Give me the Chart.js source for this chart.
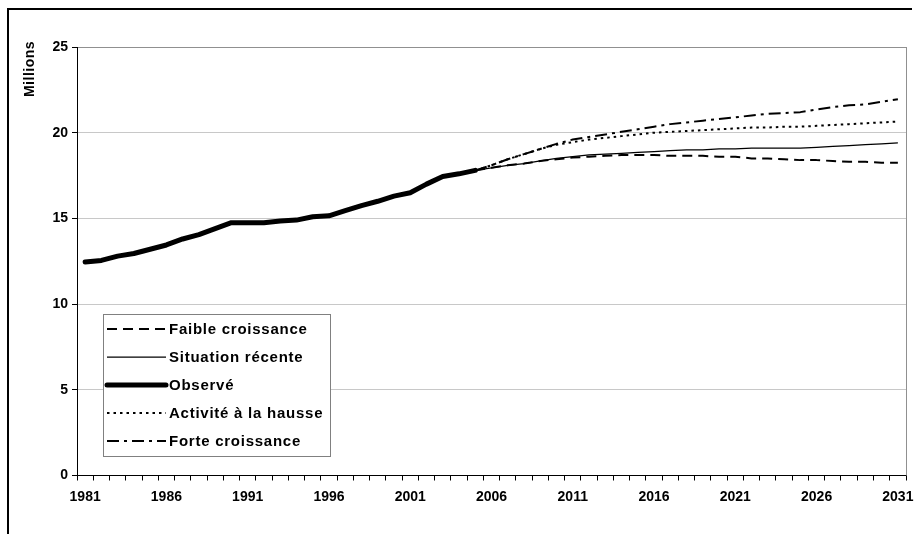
<!DOCTYPE html>
<html>
<head>
<meta charset="utf-8">
<script src="https://cdn.jsdelivr.net/npm/chart.js@4/dist/chart.umd.min.js"></script>
<style>
  html, body { margin: 0; padding: 0; background: #fff; }
  canvas { display: block; }
</style>
</head>
<body>
<canvas id="projection_chart" width="917" height="534"></canvas>
<script>
const years = [
  "1981", "1982", "1983", "1984", "1985", "1986", "1987", "1988", "1989", "1990",
  "1991", "1992", "1993", "1994", "1995", "1996", "1997", "1998", "1999", "2000",
  "2001", "2002", "2003", "2004", "2005", "2006", "2007", "2008", "2009", "2010",
  "2011", "2012", "2013", "2014", "2015", "2016", "2017", "2018", "2019", "2020",
  "2021", "2022", "2023", "2024", "2025", "2026", "2027", "2028", "2029", "2030",
  "2031",
];

// 1981 - 2005
const observed = [
  12.45, 12.55, 12.8, 12.95, 13.2, 13.45, 13.8, 14.05, 14.4, 14.75,
  14.75, 14.75, 14.85, 14.9, 15.1, 15.15, 15.45, 15.75, 16.0, 16.3,
  16.5, 17.0, 17.45, 17.6, 17.8,
];

// 2005 - 2031
const projectionYears = [
  "2005", "2006", "2007", "2008", "2009", "2010", "2011", "2012", "2013", "2014",
  "2015", "2016", "2017", "2018", "2019", "2020", "2021", "2022", "2023", "2024",
  "2025", "2026", "2027", "2028", "2029", "2030", "2031",
];
const faible = [
  17.8, 17.95, 18.1, 18.2, 18.35, 18.45, 18.55, 18.6, 18.65, 18.7,
  18.7, 18.7, 18.65, 18.65, 18.65, 18.6, 18.6, 18.5, 18.5, 18.45,
  18.4, 18.4, 18.35, 18.3, 18.3, 18.25, 18.25,
];
const recente = [
  17.8, 17.95, 18.1, 18.2, 18.35, 18.5, 18.6, 18.7, 18.75, 18.8,
  18.85, 18.9, 18.95, 19.0, 19.0, 19.05, 19.05, 19.1, 19.1, 19.1,
  19.1, 19.15, 19.2, 19.25, 19.3, 19.35, 19.4,
];
const hausse = [
  17.8, 18.1, 18.45, 18.75, 19.05, 19.3, 19.45, 19.6, 19.7, 19.8,
  19.9, 20.0, 20.05, 20.1, 20.15, 20.2, 20.25, 20.3, 20.3, 20.35,
  20.35, 20.4, 20.45, 20.5, 20.55, 20.6, 20.65,
];
const forte = [
  17.8, 18.1, 18.45, 18.75, 19.05, 19.35, 19.6, 19.75, 19.9, 20.05,
  20.2, 20.35, 20.5, 20.6, 20.7, 20.8, 20.9, 21.0, 21.1, 21.15,
  21.2, 21.35, 21.5, 21.6, 21.65, 21.8, 21.95,
];

const yMin = 0;
const yMax = 25;
const yStep = 5;

const FONT = "'Liberation Sans', Arial, sans-serif";

const projected = (values) => projectionYears.map((yr, i) => ({ x: yr, y: values[i] }));

const lineStyle = (label, data, width, dash) => ({
  label: label,
  data: data,
  borderColor: "#000",
  backgroundColor: "#000",
  borderWidth: width,
  borderDash: dash,
  borderCapStyle: "butt",
  borderJoinStyle: "round",
  pointRadius: 0,
  tension: 0,
  fill: false,
});

const datasets = [
  lineStyle("Faible croissance", projected(faible), 2, [10, 6]),
  lineStyle("Situation récente", projected(recente), 1.25, []),
  Object.assign(lineStyle("Observé", observed, 5, []), { borderCapStyle: "round" }),
  lineStyle("Activité à la hausse", projected(hausse), 2, [2.5, 4]),
  lineStyle("Forte croissance", projected(forte), 2, [12, 5, 3, 5]),
];

// outer frame (only top and left edges are visible in the original)
const framePlugin = {
  id: "frame",
  beforeDraw(chart) {
    const ctx = chart.ctx;
    ctx.save();
    ctx.strokeStyle = "#000";
    ctx.lineWidth = 2;
    ctx.beginPath();
    ctx.moveTo(8, 534);
    ctx.lineTo(8, 9);
    ctx.lineTo(912, 9);
    ctx.stroke();

    // "Millions" sits above the axis, rotated
    ctx.fillStyle = "#000";
    ctx.font = "bold 14px " + FONT;
    ctx.letterSpacing = "0.5px";
    ctx.translate(30, 69);
    ctx.rotate(-Math.PI / 2);
    ctx.textAlign = "center";
    ctx.textBaseline = "middle";
    ctx.fillText("Millions", 0, 0);
    ctx.restore();
  },
  beforeDatasetsDraw(chart) {
    const { ctx, chartArea } = chart;
    ctx.save();
    ctx.strokeStyle = "#909090";
    ctx.lineWidth = 1;
    ctx.beginPath();
    ctx.moveTo(Math.round(chartArea.right) + 0.5, chartArea.top);
    ctx.lineTo(Math.round(chartArea.right) + 0.5, chartArea.bottom);
    ctx.stroke();
    ctx.restore();
  },
};

// legend box inside the plot, lower left
const boxLegend = {
  id: "boxLegend",
  afterDraw(chart) {
    const ctx = chart.ctx;
    const left = 103, top = 314, w = 227, h = 142;
    ctx.save();
    ctx.fillStyle = "#fff";
    ctx.fillRect(left, top, w, h);
    ctx.strokeStyle = "#808080";
    ctx.lineWidth = 1;
    ctx.strokeRect(left + 0.5, top + 0.5, w, h);

    chart.data.datasets.forEach((ds, i) => {
      const y = top + 15 + i * 28;
      ctx.strokeStyle = ds.borderColor;
      ctx.lineWidth = ds.borderWidth;
      ctx.setLineDash(ds.borderDash || []);
      ctx.lineCap = ds.borderCapStyle;
      ctx.beginPath();
      ctx.moveTo(107, y);
      ctx.lineTo(166, y);
      ctx.stroke();

      ctx.setLineDash([]);
      ctx.fillStyle = "#000";
      ctx.font = "bold 15px " + FONT;
      ctx.letterSpacing = "0.75px";
      ctx.textAlign = "left";
      ctx.textBaseline = "middle";
      ctx.fillText(ds.label, 169, y + 1);
    });
    ctx.restore();
  },
};

new Chart(document.getElementById("projection_chart").getContext("2d"), {
  type: "line",
  data: {
    labels: years,
    datasets: datasets,
  },
  options: {
    responsive: false,
    animation: false,
    layout: {
      padding: { top: 47, right: 11, left: 0, bottom: 0 },
    },
    plugins: {
      legend: { display: false },
      tooltip: { enabled: false },
    },
    scales: {
      x: {
        type: "category",
        offset: true,
        grid: {
          offset: true,
          drawOnChartArea: false,
          tickLength: 5,
          tickColor: "#000",
        },
        border: { color: "#000", width: 1 },
        ticks: {
          autoSkip: false,
          maxRotation: 0,
          padding: 8,
          color: "#000",
          font: { family: FONT, size: 14, weight: "bold" },
          callback: (value, index) => (index % 5 === 0 ? years[index] : ""),
        },
        afterFit: (scale) => {
          scale.height = 58.5;
          scale.paddingLeft = 0;
          scale.paddingRight = 0;
        },
      },
      y: {
        min: yMin,
        max: yMax,
        grid: {
          color: (c) => (c.tick.value === yMax ? "#909090" : "#c8c8c8"),
          tickLength: 5,
          tickColor: "#000",
        },
        border: { color: "#000", width: 1 },
        ticks: {
          stepSize: yStep,
          padding: 4,
          color: "#000",
          font: { family: FONT, size: 14, weight: "bold" },
        },
        afterFit: (scale) => {
          scale.width = 77;
          scale.paddingTop = 0;
          scale.paddingBottom = 0;
        },
      },
    },
  },
  plugins: [framePlugin, boxLegend],
});
</script>
</body>
</html>
